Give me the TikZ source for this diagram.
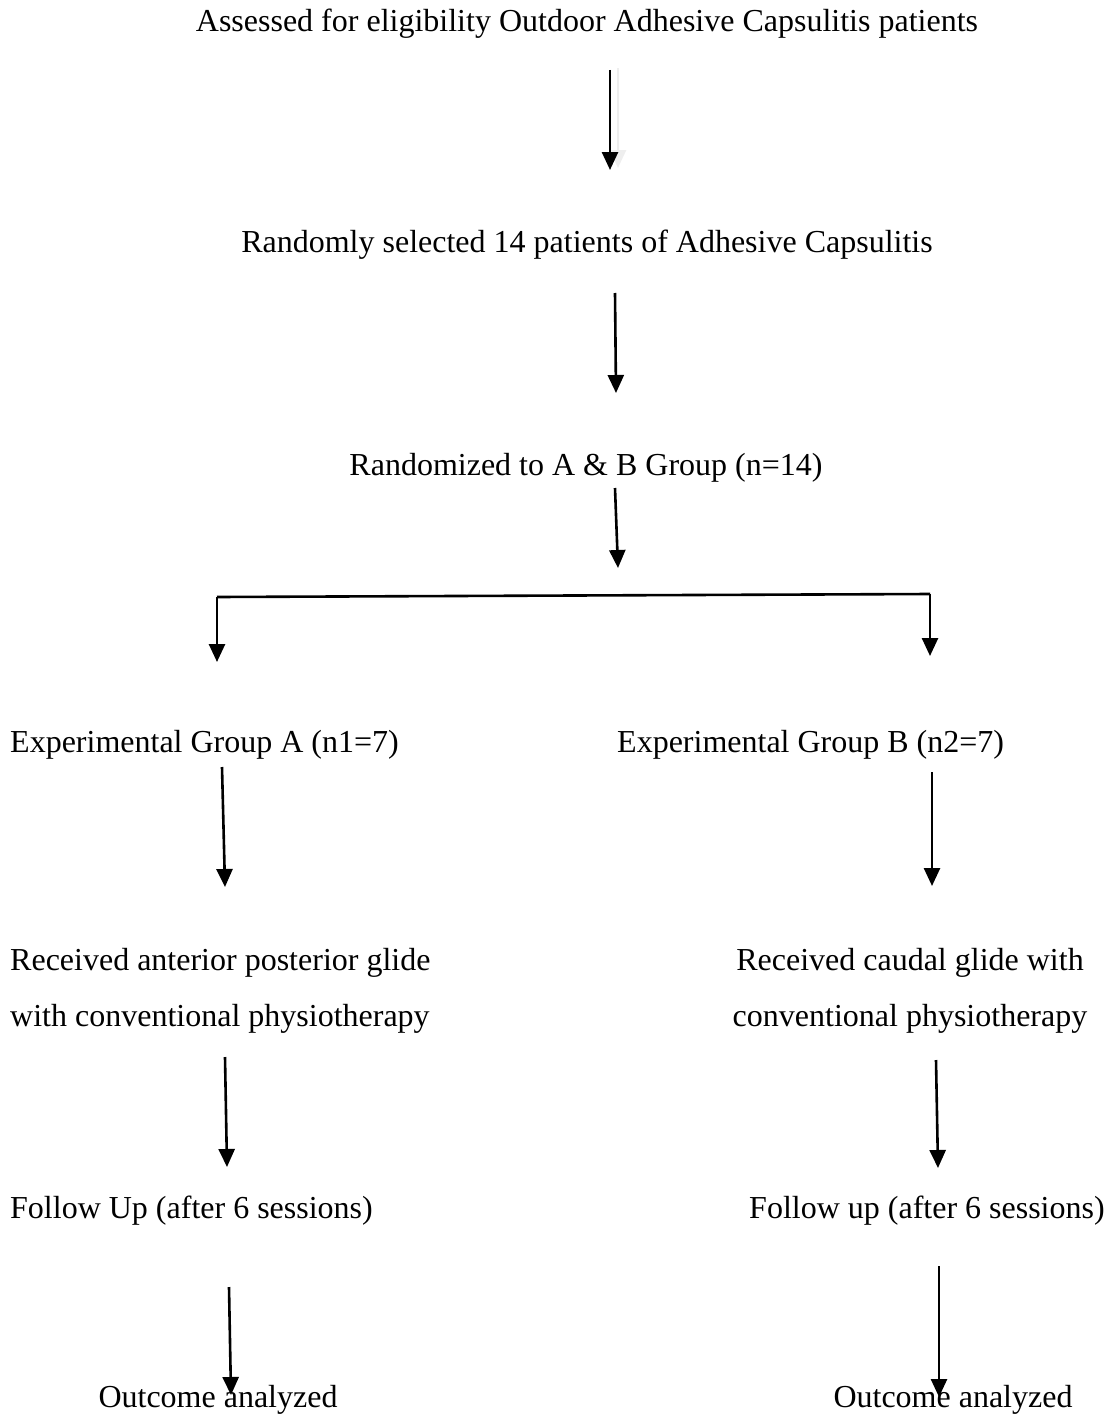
\documentclass[tikz,border=0pt]{standalone}
\usepackage{fontspec}
\setmainfont{Liberation Serif}
\usetikzlibrary{arrows.meta}
\definecolor{cink}{HTML}{000000}
\definecolor{cshade}{HTML}{EEEEEE}

\begin{document}
\begin{tikzpicture}[x=1pt, y=-1pt,
    t/.style={inner sep=0pt, font=\fontsize{32}{56}\selectfont, text=cink},
    pt/.style={-{Triangle[length=18pt, width=16pt]}, cink, line width=2.6pt},
    sh/.style={-{Triangle[length=18pt, width=16pt]}, cshade, line width=2.6pt}]
  \useasboundingbox (0,0) rectangle (1112,1418);

  \node[t, anchor=base] (elig) at (587,32) {Assessed for eligibility Outdoor Adhesive Capsulitis patients};
  \node[t, anchor=base] (sel) at (587,252) {Randomly selected 14 patients of Adhesive Capsulitis};
  \node[t, anchor=base] (rand) at (586,475) {Randomized to A \& B Group (n=14)};
  \node[t, anchor=base west] (grA) at (10,752) {Experimental Group A (n1=7)};
  \node[t, anchor=base west] (grB) at (617,752) {Experimental Group B (n2=7)};
  \node[t, anchor=base west, align=left] (recA) at (10,1026)
       {Received anterior posterior glide\\with conventional physiotherapy};
  \node[t, anchor=base, align=center] (recB) at (910,1026)
       {Received caudal glide with\\conventional physiotherapy};
  \node[t, anchor=base west] (fuA) at (10,1218) {Follow Up (after 6 sessions)};
  \node[t, anchor=base west] (fuB) at (749,1218) {Follow up (after 6 sessions)};
  \node[t, anchor=base] (outA) at (218,1407) {Outcome analyzed};
  \node[t, anchor=base] (outB) at (953,1407) {Outcome analyzed};

  % arrow ends
  \coordinate (e1) at (610,70);   \coordinate (s1) at (610,170);
  \coordinate (e2) at (615,293);  \coordinate (s2) at (616,393);
  \coordinate (e3) at (615,488);  \coordinate (s3) at (618,568);
  \coordinate (bl) at (217,597);  \coordinate (br) at (930,594);
  \coordinate (tl) at (217,662);  \coordinate (tr) at (930,656);
  \coordinate (a4) at (222,767);  \coordinate (b4) at (225,887);
  \coordinate (c4) at (932,772);  \coordinate (d4) at (932,886);
  \coordinate (a5) at (225,1057); \coordinate (b5) at (227,1167);
  \coordinate (c5) at (936,1060); \coordinate (d5) at (938,1168);
  \coordinate (a6) at (229,1287); \coordinate (b6) at (231,1395);
  \coordinate (c6) at (939,1266); \coordinate (d6) at (939,1397);

  \draw[sh] ([xshift=8pt, yshift=2pt]e1) -- ([xshift=8pt, yshift=2pt]s1);
  \draw[pt] (e1) -- (s1);
  \draw[pt] (e2) -- (s2);
  \draw[pt] (e3) -- (s3);
  \draw[cink, line width=2.6pt] (bl) -- (br);
  \draw[pt] (bl) -- (tl);
  \draw[pt] (br) -- (tr);
  \draw[pt] (a4) -- (b4);
  \draw[pt] (c4) -- (d4);
  \draw[pt] (a5) -- (b5);
  \draw[pt] (c5) -- (d5);
  \draw[pt] (a6) -- (b6);
  \draw[pt] (c6) -- (d6);
\end{tikzpicture}
\end{document}
